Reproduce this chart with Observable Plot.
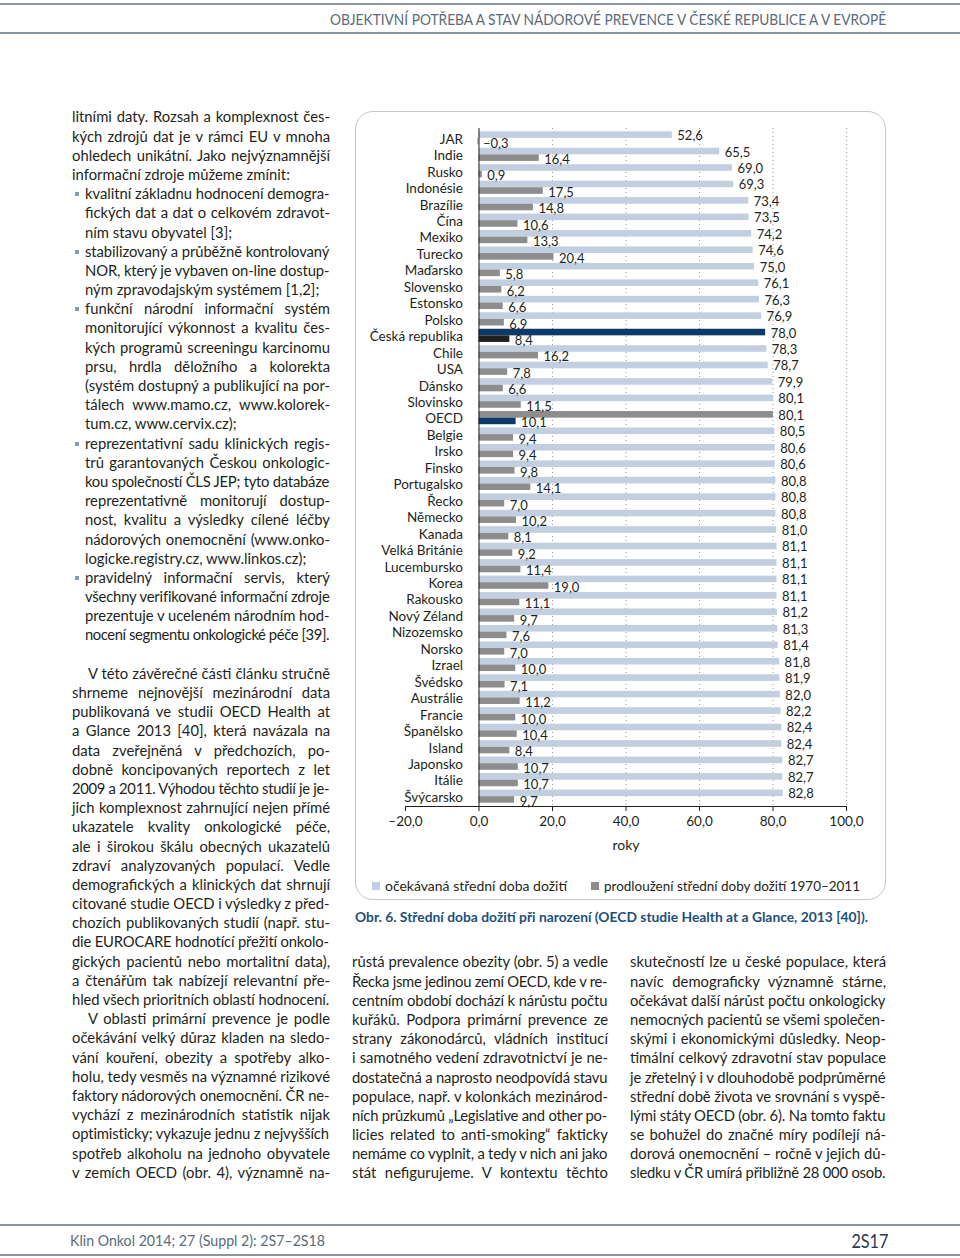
<!DOCTYPE html>
<html><head><meta charset="utf-8">
<script src="https://cdn.jsdelivr.net/npm/d3@7"></script>
<script src="https://cdn.jsdelivr.net/npm/@observablehq/plot@0.6"></script>
<style>
html,body{margin:0;padding:0;background:#fff;}
#page{position:relative;width:960px;height:1258px;overflow:hidden;font-family:Lato,"Noto Sans",sans-serif;color:#231f20;}
.hr{position:absolute;left:0;width:960px;height:2px;background:#8796a3;}
.col{position:absolute;font-size:14.8px;line-height:19.2px;}
.ln{position:relative;height:19.2px;white-space:nowrap;}
.ln span{display:inline-block;white-space:nowrap;}
.bul{position:absolute;top:8px;width:4px;height:4px;background:#8a9aab;}
.abs{position:absolute;white-space:nowrap;}
.fit{display:inline-block;white-space:nowrap;}
#box{position:absolute;left:355px;top:111px;width:529px;height:787px;border:1.5px solid #c6c6c6;border-radius:18px;}
#chart{position:absolute;left:355px;top:115px;}
.sw{position:absolute;width:8px;height:8px;}
</style>
</head><body>
<div id="page">
  <div class="hr" style="top:3px"></div>
  <div class="hr" style="top:32px"></div>
  <div class="abs" id="hdr" style="right:74px;top:10px;font-size:15px;font-weight:400;color:#5b6b79;"><span class="fit">OBJEKTIVNÍ POTŘEBA A STAV NÁDOROVÉ PREVENCE V ČESKÉ REPUBLICE A V EVROPĚ</span></div>
  <div id="box"></div>
  <div id="chart"></div>
  <div id="legend"></div>
  <div class="abs" id="cap" style="left:355px;top:908px;font-size:14px;font-weight:700;color:#1d4f7c;"><span class="fit">Obr. 6. Střední doba dožití při narození (OECD studie Health at a Glance, 2013 [40]).</span></div>
  <div class="hr" style="top:1224px"></div>
  <div class="hr" style="top:1254px"></div>
  <div class="abs" id="foot" style="left:70px;top:1231px;font-size:15px;font-weight:400;color:#5b6b79;"><span class="fit">Klin Onkol 2014; 27 (Suppl 2): 2S7–2S18</span></div>
  <div class="abs" id="pg" style="right:72px;top:1229px;font-size:19px;color:#26384a;"><span class="fit">2S17</span></div>
</div>
<script>
// ---------------- chart data ----------------
const countries = ["JAR","Indie","Rusko","Indonésie","Brazílie","Čína","Mexiko","Turecko","Maďarsko","Slovensko","Estonsko","Polsko","Česká republika","Chile","USA","Dánsko","Slovinsko","OECD","Belgie","Irsko","Finsko","Portugalsko","Řecko","Německo","Kanada","Velká Británie","Lucembursko","Korea","Rakousko","Nový Zéland","Nizozemsko","Norsko","Izrael","Švédsko","Austrálie","Francie","Španělsko","Island","Japonsko","Itálie","Švýcarsko"];
const lifeExpectancy = [52.6,65.5,69.0,69.3,73.4,73.5,74.2,74.6,75.0,76.1,76.3,76.9,78.0,78.3,78.7,79.9,80.1,80.1,80.5,80.6,80.6,80.8,80.8,80.8,81.0,81.1,81.1,81.1,81.1,81.2,81.3,81.4,81.8,81.9,82.0,82.2,82.4,82.4,82.7,82.7,82.8];
const gain1970to2011 = [-0.3,16.4,0.9,17.5,14.8,10.6,13.3,20.4,5.8,6.2,6.6,6.9,8.4,16.2,7.8,6.6,11.5,10.1,9.4,9.4,9.8,14.1,7.0,10.2,8.1,9.2,11.4,19.0,11.1,9.7,7.6,7.0,10.0,7.1,11.2,10.0,10.4,8.4,10.7,10.7,9.7];
const xTicks = [-20,0,20,40,60,80,100];
const axisLabel = "roky";
const seriesNames = ["očekávaná střední doba dožití","prodloužení střední doby dožití 1970–2011"];

// ---------------- body text ----------------
const leftCol = [
 ["litními daty. Rozsah a komplexnost čes-","j"],
 ["kých zdrojů dat je v rámci EU v mnoha","j"],
 ["ohledech unikátní. Jako nejvýznamnější","j"],
 ["informační zdroje můžeme zmínit:","l"],
 ["kvalitní základnu hodnocení demogra-","j","b"],
 ["fických dat a dat o celkovém zdravot-","j","i"],
 ["ním stavu obyvatel [3];","l","i"],
 ["stabilizovaný a průběžně kontrolovaný","j","b"],
 ["NOR, který je vybaven on-line dostup-","j","i"],
 ["ným zpravodajským systémem [1,2];","l","i"],
 ["funkční národní informační systém","j","b"],
 ["monitorující výkonnost a kvalitu čes-","j","i"],
 ["kých programů screeningu karcinomu","j","i"],
 ["prsu, hrdla děložního a kolorekta","j","i"],
 ["(systém dostupný a publikující na por-","j","i"],
 ["tálech www.mamo.cz, www.kolorek-","j","i"],
 ["tum.cz, www.cervix.cz);","l","i"],
 ["reprezentativní sadu klinických regis-","j","b"],
 ["trů garantovaných Českou onkologic-","j","i"],
 ["kou společností ČLS JEP; tyto databáze","j","i"],
 ["reprezentativně monitorují dostup-","j","i"],
 ["nost, kvalitu a výsledky cílené léčby","j","i"],
 ["nádorových onemocnění (www.onko-","j","i"],
 ["logicke.registry.cz, www.linkos.cz);","l","i"],
 ["pravidelný informační servis, který","j","b"],
 ["všechny verifikované informační zdroje","j","i"],
 ["prezentuje v uceleném národním hod-","j","i"],
 ["nocení segmentu onkologické péče [39].","j","i"],
 ["","l"],
 ["V této závěrečné části článku stručně","j","p"],
 ["shrneme nejnovější mezinárodní data","j"],
 ["publikovaná ve studii OECD Health at","j"],
 ["a Glance 2013 [40], která navázala na","j"],
 ["data zveřejněná v předchozích, po-","j"],
 ["dobně koncipovaných reportech z let","j"],
 ["2009 a 2011. Výhodou těchto studií je je-","j"],
 ["jich komplexnost zahrnující nejen přímé","j"],
 ["ukazatele kvality onkologické péče,","j"],
 ["ale i širokou škálu obecných ukazatelů","j"],
 ["zdraví analyzovaných populací. Vedle","j"],
 ["demografických a klinických dat shrnují","j"],
 ["citované studie OECD i výsledky z před-","j"],
 ["chozích publikovaných studií (např. stu-","j"],
 ["die EUROCARE hodnotící přežití onkolo-","j"],
 ["gických pacientů nebo mortalitní data),","j"],
 ["a čtenářům tak nabízejí relevantní pře-","j"],
 ["hled všech prioritních oblastí hodnocení.","j"],
 ["V oblasti primární prevence je podle","j","p"],
 ["očekávání velký důraz kladen na sledo-","j"],
 ["vání kouření, obezity a spotřeby alko-","j"],
 ["holu, tedy vesměs na významné rizikové","j"],
 ["faktory nádorových onemocnění. ČR ne-","j"],
 ["vychází z mezinárodních statistik nijak","j"],
 ["optimisticky; vykazuje jednu z nejvyšších","j"],
 ["spotřeb alkoholu na jednoho obyvatele","j"],
 ["v zemích OECD (obr. 4), významně na-","j"]
];
const midCol = [
 ["růstá prevalence obezity (obr. 5) a vedle","j"],
 ["Řecka jsme jedinou zemí OECD, kde v re-","j"],
 ["centním období dochází k nárůstu počtu","j"],
 ["kuřáků. Podpora primární prevence ze","j"],
 ["strany zákonodárců, vládních institucí","j"],
 ["i samotného vedení zdravotnictví je ne-","j"],
 ["dostatečná a naprosto neodpovídá stavu","j"],
 ["populace, např. v kolonkách mezinárod-","j"],
 ["ních průzkumů „Legislative and other po-","j"],
 ["licies related to anti-smoking“ fakticky","j"],
 ["nemáme co vyplnit, a tedy v nich ani jako","j"],
 ["stát nefigurujeme. V kontextu těchto","j"]
];
const rightCol = [
 ["skutečností lze u české populace, která","j"],
 ["navíc demograficky významně stárne,","j"],
 ["očekávat další nárůst počtu onkologicky","j"],
 ["nemocných pacientů se všemi společen-","j"],
 ["skými i ekonomickými důsledky. Neop-","j"],
 ["timální celkový zdravotní stav populace","j"],
 ["je zřetelný i v dlouhodobě podprůměrné","j"],
 ["střední době života ve srovnání s vyspě-","j"],
 ["lými státy OECD (obr. 6). Na tomto faktu","j"],
 ["se bohužel do značné míry podílejí ná-","j"],
 ["dorová onemocnění – ročně v jejich dů-","j"],
 ["sledku v ČR umírá přibližně 28\u00a0000 osob.","j"]
];

const page = document.getElementById("page");
function buildCol(lines, left, top, width){
  const col = document.createElement("div");
  col.className = "col";
  col.style.left = left + "px"; col.style.top = top + "px"; col.style.width = width + "px";
  page.appendChild(col);
  for (const [t, mode, flag] of lines){
    const ln = document.createElement("div");
    ln.className = "ln";
    let ind = 0;
    if (flag === "b" || flag === "i") ind = 13;
    if (flag === "p") ind = 16;
    ln.style.paddingLeft = ind + "px";
    if (flag === "b"){ const b = document.createElement("div"); b.className="bul"; b.style.left = "3px"; ln.appendChild(b); }
    const sp = document.createElement("span"); sp.textContent = t; ln.appendChild(sp);
    col.appendChild(ln);
    const avail = width - ind;
    const nat = sp.getBoundingClientRect().width;
    if (nat > avail){
      sp.style.letterSpacing = (-(nat - avail + 0.5) / Math.max(1, t.length - 1)) + "px";
    } else if (mode === "j"){
      const n = (t.match(/ /g) || []).length;
      if (n > 0) sp.style.wordSpacing = ((avail - nat) / n) + "px";
    }
  }
}
buildCol(leftCol, 72, 107.4, 258);
buildCol(midCol, 352, 952.4, 256);
buildCol(rightCol, 630, 952.4, 256);

function fit(id, target, origin){
  const sp = document.querySelector("#" + id + " .fit");
  const w = sp.getBoundingClientRect().width;
  sp.style.transformOrigin = origin;
  sp.style.transform = "scaleX(" + (target / w) + ")";
}
fit("hdr", 556, "right center");
fit("cap", 513, "left center");
fit("foot", 255, "left center");
fit("pg", 37, "right center");

// ---------------- chart ----------------
const rows = countries.map((c, i) => ({country: c, life: lifeExpectancy[i], gain: gain1970to2011[i]}));
const lightFill = d => d.country === "Česká republika" ? "#0c3a68" : d.country === "OECD" ? "#8d8d8d" : "#c2cfe0";
const darkFill = d => d.country === "Česká republika" ? "#231f20" : d.country === "OECD" ? "#0c3a68" : "#8d8d8d";
const fmt = v => v.toFixed(1).replace(".", ",").replace("-", "\u2013");

const W = 531, H = 745, mT = 13, mB = 54, mL = 50, mR = 40;
const band = d3.scaleBand(countries, [mT, H - mB]).padding(0.2);
const half = band.bandwidth() / 2;

const chart = Plot.plot({
  width: W, height: H,
  marginTop: mT, marginBottom: mB, marginLeft: mL, marginRight: mR,
  style: {fontFamily: "Lato, 'Noto Sans', sans-serif", fontSize: "13.5px", color: "#231f20", background: "transparent"},
  x: {domain: [-20, 100], ticks: xTicks, tickFormat: fmt, tickSize: 5, tickPadding: 5, line: true, label: null},
  y: {domain: countries, padding: 0.2, round: false, axis: null},
  marks: [
    Plot.ruleX(xTicks.filter(t => t > 0), {stroke: "#9a9a9a", strokeDasharray: "1,3"}),
    Plot.barX(rows, {x: "life", y: "country", fill: lightFill, insetBottom: half}),
    Plot.barX(rows, {x: "gain", y: "country", fill: darkFill, insetTop: half}),
    Plot.ruleX([0], {stroke: "#231f20"}),
    Plot.text(rows, {x: () => 0, y: "country", text: "country", textAnchor: "end", dx: -16, dy: 1, fill: "#231f20"}),
    Plot.text(rows, {x: "life", y: "country", text: d => fmt(d.life), textAnchor: "start", dx: 5, dy: -2.5, fill: "#231f20", fontSize: 13}),
    Plot.text(rows, {x: "gain", y: "country", text: d => fmt(d.gain), textAnchor: "start", dx: 5, dy: 5, fill: "#231f20", fontSize: 13}),
    Plot.text([axisLabel], {x: () => 40, frameAnchor: "bottom", text: d => d, dy: 43, fill: "#231f20", fontSize: 14})
  ]
});
document.getElementById("chart").appendChild(chart);

// ---------------- legend ----------------
const legend = document.getElementById("legend");
const legendPos = [{sx: 372, tx: 385, w: 182, fill: "#c2cfe0"}, {sx: 591, tx: 604, w: 256, fill: "#8d8d8d"}];
seriesNames.forEach((name, i) => {
  const p = legendPos[i];
  const sw = document.createElement("div"); sw.className = "sw";
  sw.style.left = p.sx + "px"; sw.style.top = "882px"; sw.style.background = p.fill;
  legend.appendChild(sw);
  const t = document.createElement("div"); t.className = "abs"; t.id = "lg" + i;
  t.style.left = p.tx + "px"; t.style.top = "877px"; t.style.fontSize = "14px";
  const s = document.createElement("span"); s.className = "fit"; s.textContent = name; t.appendChild(s);
  legend.appendChild(t);
  fit("lg" + i, p.w, "left center");
});
</script>
</body></html>
